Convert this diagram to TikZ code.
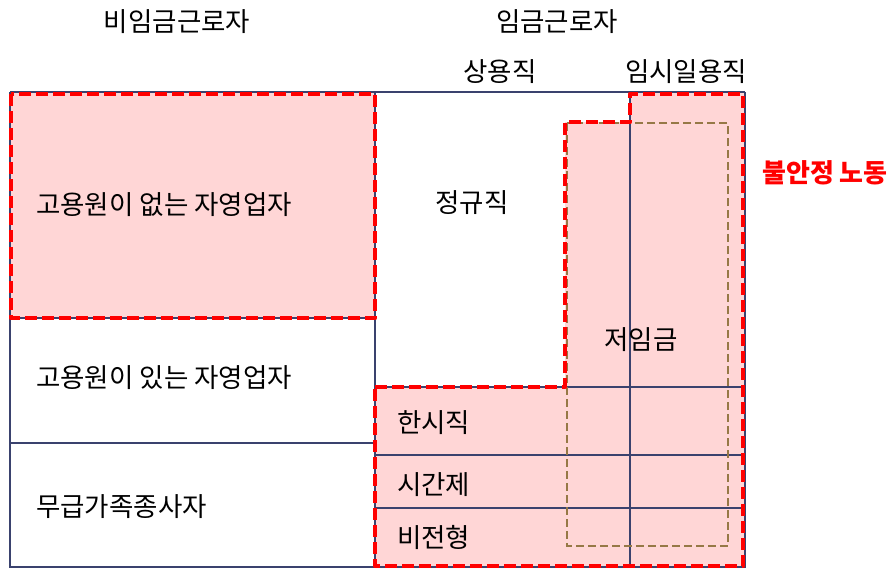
\documentclass[tikz,border=0pt]{standalone}
\usepackage{fontspec}
\setmainfont{Noto Sans CJK KR}
\definecolor{pinkfill}{RGB}{255,214,214}
\definecolor{gridblue}{RGB}{58,66,110}
\definecolor{olive}{RGB}{150,120,70}
\tikzset{
  grid/.style={draw=gridblue, line width=2pt},
  reddash/.style={draw=red, line width=4.5pt, dash pattern=on 12pt off 5pt, line join=round},
  olivedash/.style={draw=olive, line width=2.2pt, dash pattern=on 8pt off 4pt},
  lbl/.style={font=\fontsize{26.5pt}{30pt}\selectfont, inner sep=0pt, text=black},
  lblw/.style={lbl, anchor=west},
}
\begin{document}
\begin{tikzpicture}[x=1pt,y=-1pt]
\useasboundingbox (0,0) rectangle (890,568);
% pink areas
\fill[pinkfill] (10,92) rectangle (375,318);
\fill[pinkfill] (375,387) -- (565,387) -- (565,122) -- (630,122) -- (630,92) -- (745,92) -- (745,568) -- (375,568) -- cycle;
% grid lines
\draw[grid] (10,92) -- (745,92);
\draw[grid] (10,92) -- (10,568);
\draw[grid] (375,92) -- (375,568);
\draw[grid] (630,92) -- (630,568);
\draw[grid] (745,92) -- (745,568);
\draw[grid] (10,318) -- (375,318);
\draw[grid] (10,443) -- (375,443);
\draw[grid] (375,387) -- (745,387);
\draw[grid] (375,455) -- (745,455);
\draw[grid] (375,508) -- (745,508);
\draw[grid] (10,567) -- (745,567);
% olive dashed (low wage)
\draw[olivedash] (567,123) rectangle (728,546);
% red dashed outlines
\draw[reddash] (11,94) rectangle (375,318);
\draw[reddash] (375,387) -- (565,387) -- (565,122) -- (630,122) -- (630,94) -- (743,94) -- (743,566) -- (375,566) -- cycle;
% labels
\node[lbl] (nonwage) at (177,22) {비임금근로자};
\node[lbl] (wage) at (557,22) {임금근로자};
\node[lbl] (regular) at (500,72) {상용직};
\node[lbl] (temp) at (686,72) {임시일용직};
\node[lblw] (selfno) at (36,205) {고용원이 없는 자영업자};
\node[lblw] (selfyes) at (36,378) {고용원이 있는 자영업자};
\node[lblw] (family) at (36,507) {무급가족종사자};
\node[lbl] (jeong) at (472,203) {정규직};
\node[lbl] (low) at (641,340) {저임금};
\node[lblw] (limited) at (397,423) {한시직};
\node[lblw] (part) at (397,485) {시간제};
\node[lblw] (atyp) at (397,537) {비전형};
\node[lblw, text=red, font=\fontsize{26pt}{30pt}\selectfont\bfseries] (precarious) at (762,173) {불안정 노동};
\end{tikzpicture}
\end{document}
